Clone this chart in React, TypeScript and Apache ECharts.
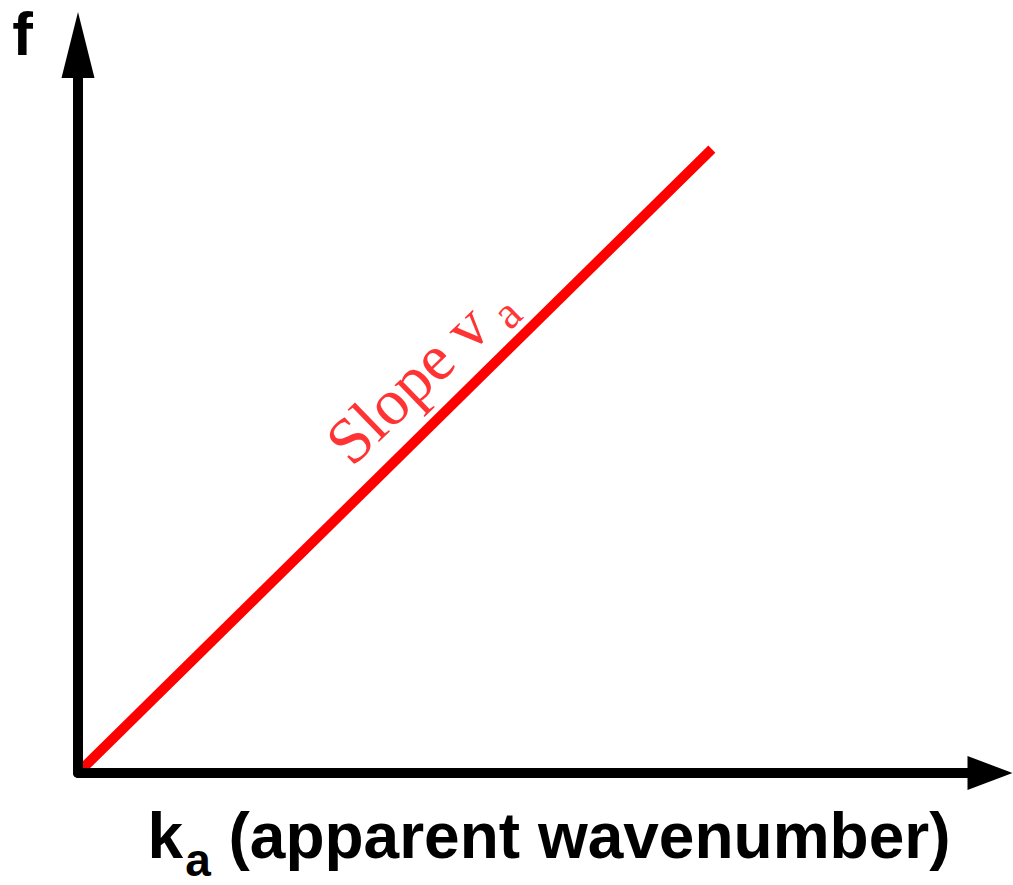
import React, { useEffect, useRef } from "react";
import * as echarts from "echarts";

// Dispersion line: frequency f against apparent wavenumber k_a
const kValues = [0, 69.5];
const fValues = [0, 85.7];

// Where the slope annotation sits (data coordinates)
const slopeLabelAt = [37.4, 55.0];

const xTitle = "{k|k}{s|a}{k| (apparent wavenumber)}";
const yTitle = "f";
const slopeText = "{m|Slope v}{s|a}";

export default function App() {
  const ref = useRef<HTMLDivElement>(null);

  useEffect(() => {
    if (!ref.current) return;
    const chart = echarts.init(ref.current, null, { renderer: "svg" });

    const axisLine = {
      show: true,
      onZero: false,
      lineStyle: { color: "#000", width: 10 },
    };

    chart.setOption({
      animation: false,
      backgroundColor: "#fff",
      grid: {
        left: 78,
        right: 23,
        top: 45,
        bottom: 112,
        containLabel: false,
        outerBoundsMode: "none",
      },
      xAxis: {
        type: "value",
        min: 0,
        max: 100,
        z: 5,
        axisLine: {
          ...axisLine,
          symbol: ["none", "triangle"],
          symbolSize: [34, 45],
        },
        axisTick: { show: false },
        axisLabel: { show: false },
        splitLine: { show: false },
        name: xTitle,
        nameLocation: "middle",
        nameGap: 28,
        nameTextStyle: {
          padding: [0, 0, 0, 30],
          rich: {
            k: {
              fontFamily: "Liberation Sans",
              fontWeight: "bold",
              fontSize: 64,
              color: "#000",
              lineHeight: 70,
            },
            s: {
              fontFamily: "Liberation Sans",
              fontWeight: "bold",
              fontSize: 46,
              color: "#000",
              lineHeight: 70,
              padding: [48, 0, 0, 2],
            },
          },
        },
      },
      yAxis: {
        type: "value",
        min: 0,
        max: 100,
        z: 5,
        axisLine: {
          ...axisLine,
          symbol: ["none", "triangle"],
          symbolSize: [33, 66],
        },
        axisTick: { show: false },
        axisLabel: { show: false },
        splitLine: { show: false },
        name: yTitle,
        nameLocation: "end",
        nameGap: 43,
        nameTextStyle: {
          fontFamily: "Liberation Sans",
          fontWeight: "bold",
          fontSize: 62,
          lineHeight: 62,
          color: "#000",
          align: "right",
          verticalAlign: "top",
          padding: [0, 45, 0, 0],
        },
      },
      series: [
        {
          type: "line",
          data: kValues.map((k, i) => [k, fValues[i]]),
          showSymbol: false,
          clip: false,
          z: 2,
          lineStyle: { color: "#ff0000", width: 10, cap: "butt" },
        },
        {
          type: "scatter",
          data: [slopeLabelAt],
          symbolSize: 0,
          z: 3,
          label: {
            show: true,
            position: "inside",
            rotate: 44,
            formatter: slopeText,
            rich: {
              m: {
                fontFamily: "Liberation Serif",
                fontSize: 65,
                color: "#ff0000",
                lineHeight: 70,
              },
              s: {
                fontFamily: "Liberation Serif",
                fontSize: 46,
                color: "#ff0000",
                lineHeight: 70,
                padding: [36, 0, 0, 12],
              },
            },
          },
        },
      ],
    });

    return () => chart.dispose();
  }, []);

  return (
    <div
      ref={ref}
      style={{ position: "absolute", left: 0, top: 0, width: 1013, height: 885 }}
    />
  );
}
